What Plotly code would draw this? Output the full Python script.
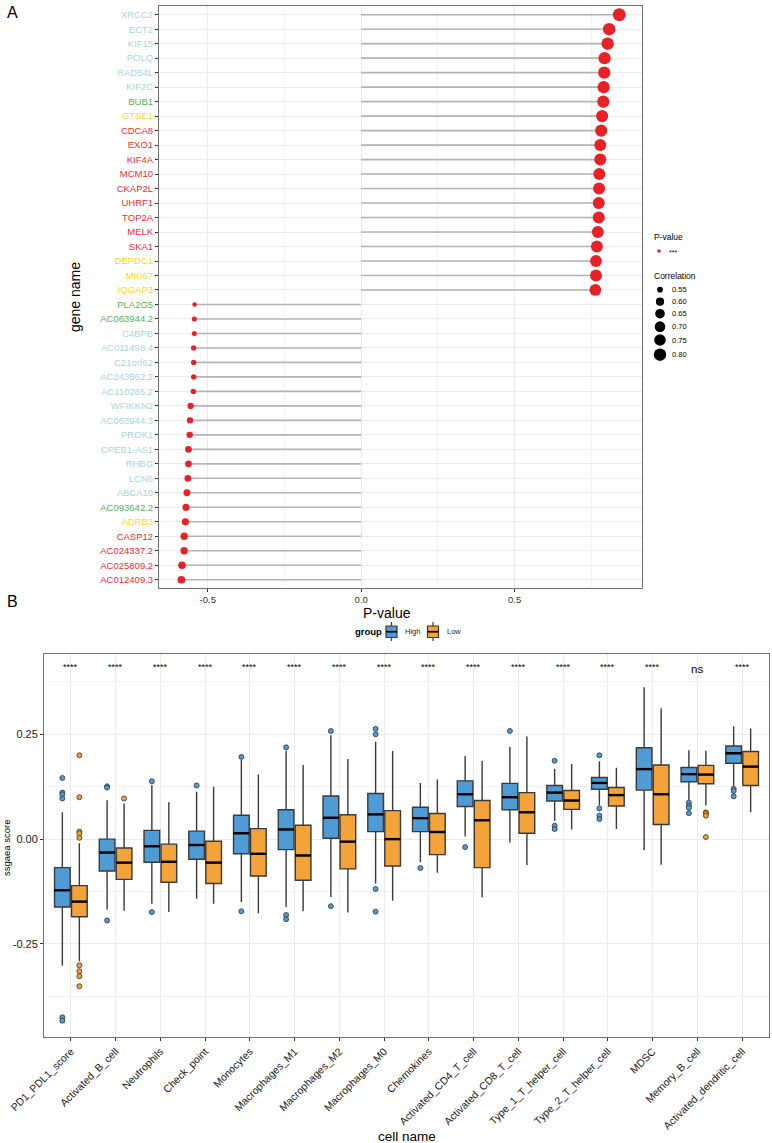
import plotly.graph_objects as go
import math

# ---------------- Panel A data ----------------
genes = ["XRCC2", "ECT2", "KIF15", "POLQ", "RAD54L", "KIF2C", "BUB1", "GTSE1", "CDCA8", "EXO1",
         "KIF4A", "MCM10", "CKAP2L", "UHRF1", "TOP2A", "MELK", "SKA1", "DEPDC1", "MKI67", "IQGAP3",
         "PLA2G5", "AC063944.2", "C4BPB", "AC011498.4", "C21orf62", "AC243562.2", "AC110285.2",
         "WFIKKN2", "AC063944.3", "PROK1", "CPEB1-AS1", "RHBG", "LCN6", "ABCA10", "AC093642.2",
         "ADRB3", "CASP12", "AC024337.2", "AC025809.2", "AC012409.3"]
correlation = [0.841, 0.808, 0.803, 0.793, 0.792, 0.790, 0.789, 0.785, 0.782, 0.779,
               0.779, 0.776, 0.775, 0.774, 0.774, 0.771, 0.768, 0.765, 0.765, 0.763,
               -0.543, -0.544, -0.544, -0.546, -0.546, -0.546, -0.547,
               -0.556, -0.558, -0.559, -0.563, -0.563, -0.565, -0.568, -0.571,
               -0.573, -0.577, -0.577, -0.584, -0.586]
gene_class = ["lb", "lb", "lb", "lb", "lb", "lb", "gr", "yl", "rd", "rd",
              "rd", "rd", "rd", "rd", "rd", "rd", "rd", "yl", "yl", "yl",
              "gr", "gr", "lb", "lb", "lb", "lb", "lb",
              "lb", "lb", "lb", "lb", "lb", "lb", "lb", "gr",
              "yl", "rd", "rd", "rd", "rd"]
class_colors = {"lb": "#A9D4DA", "gr": "#55B255", "yl": "#FFD21F", "rd": "#F42C2C"}
legend_corr = [0.55, 0.60, 0.65, 0.70, 0.75, 0.80]
pvalue_label = "***"

# ---------------- Panel B data ----------------
cells = ["PD1_PDL1_score", "Activated_B_cell", "Neutrophils", "Check_point", "Monocytes",
         "Macrophages_M1", "Macrophages_M2", "Macrophages_M0", "Chemokines", "Activated_CD4_T_cell",
         "Activated_CD8_T_cell", "Type_1_T_helper_cell", "Type_2_T_helper_cell", "MDSC",
         "Memory_B_cell", "Activated_dendritic_cell"]
sig = ["****"] * 14 + ["ns", "****"]

high_lower = [-0.302, -0.168, -0.154, -0.142, -0.150, -0.162, -0.138, -0.106, -0.055, 0.006,
              -0.008, 0.043, 0.080, -0.026, 0.092, 0.124]
high_q1 = [-0.162, -0.076, -0.055, -0.048, -0.035, -0.025, 0.002, 0.018, 0.018, 0.078,
           0.070, 0.091, 0.119, 0.117, 0.137, 0.181]
high_median = [-0.122, -0.032, -0.017, -0.014, 0.014, 0.023, 0.051, 0.059, 0.050, 0.107,
               0.100, 0.111, 0.134, 0.167, 0.155, 0.205]
high_q3 = [-0.068, 0.000, 0.021, 0.019, 0.057, 0.070, 0.103, 0.109, 0.076, 0.139,
           0.133, 0.128, 0.147, 0.218, 0.171, 0.222]
high_upper = [0.064, 0.093, 0.129, 0.113, 0.189, 0.211, 0.248, 0.232, 0.134, 0.198,
              0.220, 0.167, 0.186, 0.362, 0.212, 0.269]
high_outliers = [[0.146, 0.111, 0.107, 0.097, -0.425, -0.433], [0.126, 0.123, -0.194],
                 [0.138, -0.174], [0.128], [0.196, -0.172], [0.219, -0.181, -0.191],
                 [0.258, -0.160], [0.263, 0.250, -0.119, -0.173], [-0.069], [-0.019],
                 [0.258], [0.187, 0.032, 0.024], [0.200, 0.073, 0.056, 0.048], [],
                 [0.087, 0.080, 0.075, 0.062], [0.120, 0.115, 0.102]]

low_lower = [-0.291, -0.171, -0.174, -0.154, -0.177, -0.172, -0.175, -0.147, -0.080, -0.139,
             -0.062, 0.023, 0.024, -0.061, 0.080, 0.064]
low_q1 = [-0.185, -0.096, -0.103, -0.106, -0.088, -0.098, -0.071, -0.064, -0.037, -0.068,
          0.014, 0.071, 0.079, 0.035, 0.132, 0.128]
low_median = [-0.149, -0.056, -0.054, -0.056, -0.035, -0.039, -0.006, 0.000, 0.017, 0.045,
              0.064, 0.092, 0.105, 0.107, 0.154, 0.173]
low_q3 = [-0.111, -0.021, -0.012, -0.005, 0.025, 0.033, 0.058, 0.068, 0.061, 0.092,
          0.111, 0.116, 0.123, 0.177, 0.176, 0.209]
low_upper = [-0.010, 0.085, 0.088, 0.125, 0.154, 0.177, 0.191, 0.210, 0.142, 0.187,
             0.245, 0.179, 0.170, 0.312, 0.211, 0.264]
low_outliers = [[0.200, 0.100, 0.018, 0.014, 0.003, -0.301, -0.315, -0.327, -0.351], [0.097],
                [], [], [], [], [], [], [], [], [], [], [], [],
                [0.064, 0.061, 0.056, 0.005], []]

groups = ["High", "Low"]
group_colors = {"High": "#4F9BD5", "Low": "#F4A23A"}

FONT = "Liberation Sans, Arial, sans-serif"
W, H = 772, 1143


def px_x(p):
    return p / W


def px_y(p):
    return 1 - p / H


def label(text, x, y, size, color="black", xanchor="center", angle=0):
    return dict(x=px_x(x), y=px_y(y), xref="paper", yref="paper", text=text, showarrow=False,
                xanchor=xanchor, yanchor="middle", textangle=angle,
                font=dict(size=size, color=color))


fig = go.Figure()

# ---------------- Panel A ----------------
vmin = min(abs(c) for c in correlation)
vmax = max(abs(c) for c in correlation)


def dot_size(v):
    return 4.5 + 8.5 * math.sqrt(max(v - vmin, 0) / (vmax - vmin))


seg_x, seg_y = [], []
for i, c in enumerate(correlation):
    seg_x += [0, c, None]
    seg_y += [i, i, None]
fig.add_trace(go.Scatter(x=seg_x, y=seg_y, mode="lines", line=dict(color="#B3B3B3", width=1.6),
                         xaxis="x", yaxis="y", showlegend=False, hoverinfo="skip"))
fig.add_trace(go.Scatter(x=correlation, y=list(range(len(genes))), mode="markers",
                         marker=dict(color="#E82127", opacity=1,
                                     size=[dot_size(abs(c)) for c in correlation],
                                     line=dict(width=0)),
                         xaxis="x", yaxis="y", showlegend=False, text=genes))

# Panel A legend (helper axis in pixel space)
leg_y = [289.7, 301.7, 313.7, 326.7, 340.0, 354.7]
fig.add_trace(go.Scatter(x=[660] * len(legend_corr), y=leg_y, mode="markers",
                         marker=dict(color="black", opacity=1, size=[dot_size(v) for v in legend_corr],
                                     line=dict(width=0)),
                         xaxis="x3", yaxis="y3", showlegend=False, hoverinfo="skip"))
fig.add_trace(go.Scatter(x=[659], y=[251], mode="markers",
                         marker=dict(color="#E82127", size=3.5, line=dict(width=0)),
                         xaxis="x3", yaxis="y3", showlegend=False, hoverinfo="skip"))

# ---------------- Panel B ----------------
OFF = 0.19
BW = 0.35
BOX_LINE = dict(color="#3a3a3a", width=1.4)
for g, lo, q1, me, q3, up, outs in [
        ("High", high_lower, high_q1, high_median, high_q3, high_upper, high_outliers),
        ("Low", low_lower, low_q1, low_median, low_q3, low_upper, low_outliers)]:
    sgn = -1 if g == "High" else 1
    xs = [i + sgn * OFF for i in range(len(cells))]
    fig.add_trace(go.Box(x=xs, q1=q1, median=me, q3=q3, lowerfence=lo, upperfence=up,
                         width=BW, name=g, fillcolor=group_colors[g],
                         line=BOX_LINE, whiskerwidth=0,
                         boxpoints=False, xaxis="x2", yaxis="y2", showlegend=False))
    mx, my = [], []
    for x, m in zip(xs, me):
        mx += [x - BW / 2, x + BW / 2, None]
        my += [m, m, None]
    fig.add_trace(go.Scatter(x=mx, y=my, mode="lines", line=dict(color="black", width=2.4),
                             xaxis="x2", yaxis="y2", showlegend=False, hoverinfo="skip"))
    ox, oy = [], []
    for x, o in zip(xs, outs):
        ox += [x] * len(o)
        oy += o
    fig.add_trace(go.Scatter(x=ox, y=oy, mode="markers",
                             marker=dict(color=group_colors[g], size=5, opacity=1,
                                         line=dict(color="#333333", width=0.8)),
                             xaxis="x2", yaxis="y2", showlegend=False, hoverinfo="skip"))

# Panel B legend keys (helper axis in pixel space, y increasing downward)
key_x = {"High": 391.5, "Low": 433.0}
for g in groups:
    fig.add_trace(go.Box(x=[key_x[g]], q1=[626.0], median=[631.7], q3=[637.5],
                         lowerfence=[622.0], upperfence=[641.0], width=11,
                         fillcolor=group_colors[g], line=dict(color="#3a3a3a", width=1.2),
                         whiskerwidth=0, boxpoints=False, xaxis="x4", yaxis="y4",
                         showlegend=False, hoverinfo="skip"))
    fig.add_trace(go.Scatter(x=[key_x[g] - 5.5, key_x[g] + 5.5], y=[631.7, 631.7], mode="lines",
                             line=dict(color="black", width=1.6), xaxis="x4", yaxis="y4",
                             showlegend=False, hoverinfo="skip"))

annotations = []
for i, s in enumerate(sig):
    annotations.append(dict(x=i, y=0.411 if s != "ns" else 0.405, xref="x2", yref="y2", text=s,
                            showarrow=False, xanchor="center", yanchor="middle",
                            font=dict(size=9 if s != "ns" else 11.5, color="black")))

annotations += [
    label("A", 12, 12, 16),
    label("B", 12, 601, 16),
    label("gene name", 75, 297, 14, angle=-90),
    label("P-value", 387, 613, 14),
    label("ssgaea score", 6, 848, 9.5, angle=-90),
    label("cell name", 407, 1136, 13.5),
    label("P-value", 652, 237, 8.5, xanchor="left"),
    label(pvalue_label, 667, 253, 7, xanchor="left"),
    label("Correlation", 652, 276, 8.5, xanchor="left"),
    label("<b>group</b>", 353, 631.7, 9.5, xanchor="left"),
]
for g, tx in zip(groups, [403, 445]):
    annotations.append(label(g, tx, 631.7, 7.5, color="#222222", xanchor="left"))
for v, yy in zip(legend_corr, leg_y):
    annotations.append(label(f"{v:.2f}", 670, yy, 7.5, xanchor="left"))

GRID = "#EBEBEB"
BORDER = "#707070"
TICKC = "#333333"

ticktext_genes = [f"<span style='color:{class_colors[c]}'>{g}</span>" for g, c in zip(genes, gene_class)]

fig.update_layout(
    width=W, height=H,
    margin=dict(l=0, r=0, t=0, b=0, autoexpand=False),
    paper_bgcolor="white", plot_bgcolor="white",
    font=dict(family=FONT, color="#333333"),
    boxmode="overlay",
    showlegend=False,
    xaxis=dict(domain=[px_x(159), px_x(641.7)], range=[-0.659, 0.914], anchor="y", automargin=False,
               tickvals=[-0.5, 0, 0.5], ticktext=["-0.5", "0.0", "0.5"],
               showgrid=True, gridcolor=GRID, gridwidth=1,
               minor=dict(tickvals=[-0.25, 0.25, 0.75], showgrid=True, gridcolor="#F3F3F3", gridwidth=0.6),
               zeroline=False, showline=True, linecolor=BORDER, linewidth=1, mirror=True,
               ticks="outside", ticklen=3, tickcolor=TICKC, tickfont=dict(size=9.5, color="#333")),
    yaxis=dict(domain=[px_y(588), px_y(6)], range=[39.57, -0.6], anchor="x", automargin=False,
               tickvals=list(range(len(genes))), ticktext=ticktext_genes,
               showgrid=True, gridcolor=GRID, gridwidth=1, zeroline=False,
               showline=True, linecolor=BORDER, linewidth=1, mirror=True,
               ticks="outside", ticklen=3, tickcolor=TICKC, tickfont=dict(size=9.5)),
    xaxis2=dict(domain=[px_x(44), px_x(769)], range=[-0.6, 15.6], anchor="y2", automargin=False,
                tickvals=list(range(len(cells))), ticktext=cells, tickangle=-45,
                showgrid=True, gridcolor=GRID, gridwidth=1, zeroline=False,
                showline=True, linecolor=BORDER, linewidth=1, mirror=True,
                ticks="outside", ticklen=3, tickcolor=TICKC, tickfont=dict(size=10.5, color="#1a1a1a")),
    yaxis2=dict(domain=[px_y(1037.3), px_y(654)], range=[-0.4727, 0.4416], anchor="x2", automargin=False,
                tickvals=[-0.25, 0, 0.25], ticktext=["-0.25", "0.00", "0.25"],
                showgrid=True, gridcolor=GRID, gridwidth=1,
                minor=dict(tickvals=[-0.375, -0.125, 0.125, 0.375], showgrid=True, gridcolor="#F3F3F3", gridwidth=0.6),
                zeroline=False, showline=True, linecolor=BORDER, linewidth=1, mirror=True,
                ticks="outside", ticklen=3, tickcolor=TICKC, tickfont=dict(size=11, color="#1a1a1a")),
    xaxis3=dict(domain=[px_x(645), 1.0], range=[645, 772], anchor="y3", visible=False,
                fixedrange=True, automargin=False),
    yaxis3=dict(domain=[px_y(370), px_y(225)], range=[370, 225], anchor="x3", visible=False,
                fixedrange=True, automargin=False),
    xaxis4=dict(domain=[px_x(370), px_x(460)], range=[370, 460], anchor="y4", visible=False,
                fixedrange=True, automargin=False),
    yaxis4=dict(domain=[px_y(645), px_y(618)], range=[645, 618], anchor="x4", visible=False,
                fixedrange=True, automargin=False),
    annotations=annotations,
)

fig.write_html("out.html")
